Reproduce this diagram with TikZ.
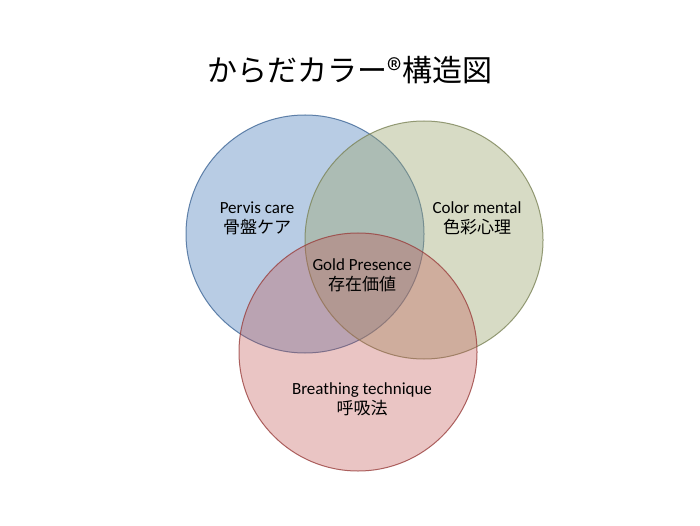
\documentclass[tikz,border=0pt]{standalone}
\usepackage{fontspec}
\setmainfont{Carlito}
\newfontfamily\jp{Noto Sans CJK JP}
\definecolor{bodyblue}{RGB}{79,129,189}
\definecolor{bodygreen}{RGB}{155,165,110}
\definecolor{bodyred}{RGB}{192,80,77}
\begin{document}
\begin{tikzpicture}[x=1pt, y=1pt,
		ring/.style={circle, minimum size=238pt, line width=1pt, fill opacity=.4, draw opacity=.8},
		lbl/.style={align=center, font=\fontsize{17}{20}\selectfont, text=black}]
		\useasboundingbox[fill=white] (0, 0) rectangle (700, 525);

		\node[font=\jp\fontsize{30}{34}\selectfont] (title) at (350, 455) {からだカラー®構造図};

		\node[ring, draw=bodyblue!80!black, fill=bodyblue] (pervis) at (305, 291) {};
		\node[ring, draw=bodygreen!80!black, fill=bodygreen] (color) at (424, 285) {};
		\node[ring, draw=bodyred!80!black, fill=bodyred, fill opacity=.33] (breath) at (358, 173) {};

		\node[lbl] (pervislbl) at (257, 307) {Pervis care\\{\jp 骨盤ケア}};
		\node[lbl] (colorlbl) at (477, 307) {Color mental\\{\jp 色彩心理}};
		\node[lbl] (goldlbl) at (362, 250) {Gold Presence\\{\jp 存在価値}};
		\node[lbl] (breathlbl) at (362, 126) {Breathing technique\\{\jp 呼吸法}};

	\end{tikzpicture}
\end{document}
